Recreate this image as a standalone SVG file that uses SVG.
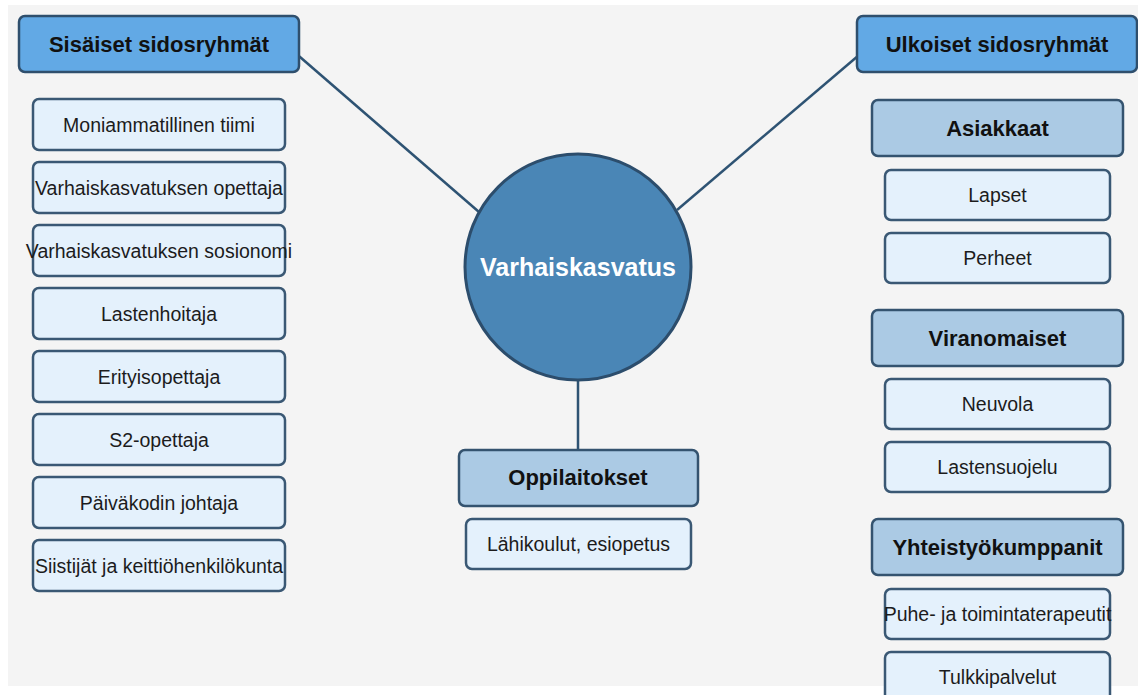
<svg xmlns="http://www.w3.org/2000/svg" width="1138" height="695" viewBox="0 0 1138 695">
<style>
  .hdr{fill:#62a9e5;stroke:#2f4f6d;stroke-width:2.5}
  .sub{fill:#abcae4;stroke:#34536f;stroke-width:2.5}
  .leaf{fill:#e4f1fc;stroke:#3a5874;stroke-width:2.5}
  .tb{font-family:"Liberation Sans",Arial,sans-serif;font-weight:bold;font-size:22px;fill:#111;text-anchor:middle}
  .tn{font-family:"Liberation Sans",Arial,sans-serif;font-size:19.5px;fill:#1c1c1c;text-anchor:middle}
  .conn{stroke:#2e5373;stroke-width:2.5;fill:none}
</style>
<rect x="0" y="0" width="1138" height="695" fill="#ffffff"/>
<rect x="8" y="5" width="1130" height="681" fill="#f4f4f4"/>
<g id="connectors">
  <line class="conn" x1="285" y1="44" x2="479" y2="212"/>
  <line class="conn" x1="872" y1="44" x2="677" y2="210"/>
  <line class="conn" x1="578" y1="380" x2="578" y2="450"/>
</g>
<g id="center">
  <circle cx="578" cy="267" r="113" fill="#4a86b6" stroke="#2c4d6c" stroke-width="3"/>
  <text x="578" y="276" font-family="Liberation Sans,Arial,sans-serif" font-weight="bold" font-size="25px" fill="#ffffff" text-anchor="middle">Varhaiskasvatus</text>
</g>
<g id="sisaiset">
  <rect class="hdr" x="19" y="16" width="280" height="56" rx="6"/>
  <text class="tb" x="159" y="52">Sisäiset sidosryhmät</text>
</g>
<g id="ulkoiset">
  <rect class="hdr" x="857" y="16" width="280" height="56" rx="6"/>
  <text class="tb" x="997" y="52">Ulkoiset sidosryhmät</text>
</g>
<g id="l1"><rect class="leaf" x="33" y="99" width="252" height="51" rx="6"/><text class="tn" x="159" y="131.5">Moniammatillinen tiimi</text></g>
<g id="l2"><rect class="leaf" x="33" y="162" width="252" height="51" rx="6"/><text class="tn" x="159" y="194.5">Varhaiskasvatuksen opettaja</text></g>
<g id="l3"><rect class="leaf" x="33" y="225" width="252" height="51" rx="6"/><text class="tn" x="159" y="257.5">Varhaiskasvatuksen sosionomi</text></g>
<g id="l4"><rect class="leaf" x="33" y="288" width="252" height="51" rx="6"/><text class="tn" x="159" y="320.5">Lastenhoitaja</text></g>
<g id="l5"><rect class="leaf" x="33" y="351" width="252" height="51" rx="6"/><text class="tn" x="159" y="383.5">Erityisopettaja</text></g>
<g id="l6"><rect class="leaf" x="33" y="414" width="252" height="51" rx="6"/><text class="tn" x="159" y="446.5">S2-opettaja</text></g>
<g id="l7"><rect class="leaf" x="33" y="477" width="252" height="51" rx="6"/><text class="tn" x="159" y="509.5">Päiväkodin johtaja</text></g>
<g id="l8"><rect class="leaf" x="33" y="540" width="252" height="51" rx="6"/><text class="tn" x="159" y="572.5">Siistijät ja keittiöhenkilökunta</text></g>
<g id="oppilaitokset">
  <rect class="sub" x="459" y="450" width="239" height="56" rx="6"/>
  <text class="tb" x="578" y="485">Oppilaitokset</text>
</g>
<g id="lahikoulut">
  <rect class="leaf" x="466" y="519" width="225" height="50" rx="6"/>
  <text class="tn" x="578.5" y="551">Lähikoulut, esiopetus</text>
</g>
<g id="asiakkaat"><rect class="sub" x="872" y="100" width="251" height="56" rx="6"/><text class="tb" x="997.5" y="135.5">Asiakkaat</text></g>
<g id="lapset"><rect class="leaf" x="885" y="170" width="225" height="50" rx="6"/><text class="tn" x="997.5" y="202">Lapset</text></g>
<g id="perheet"><rect class="leaf" x="885" y="233" width="225" height="50" rx="6"/><text class="tn" x="997.5" y="265">Perheet</text></g>
<g id="viranomaiset"><rect class="sub" x="872" y="310" width="251" height="56" rx="6"/><text class="tb" x="997.5" y="345.5">Viranomaiset</text></g>
<g id="neuvola"><rect class="leaf" x="885" y="379" width="225" height="50" rx="6"/><text class="tn" x="997.5" y="411">Neuvola</text></g>
<g id="lastensuojelu"><rect class="leaf" x="885" y="442" width="225" height="50" rx="6"/><text class="tn" x="997.5" y="474">Lastensuojelu</text></g>
<g id="yhteistyo"><rect class="sub" x="872" y="519" width="251" height="56" rx="6"/><text class="tb" x="997.5" y="554.5">Yhteistyökumppanit</text></g>
<g id="puhe"><rect class="leaf" x="885" y="589" width="225" height="50" rx="6"/><text class="tn" x="997.5" y="621">Puhe- ja toimintaterapeutit</text></g>
<g id="tulkki"><rect class="leaf" x="885" y="652" width="225" height="50" rx="6"/><text class="tn" x="997.5" y="684">Tulkkipalvelut</text></g>
</svg>
